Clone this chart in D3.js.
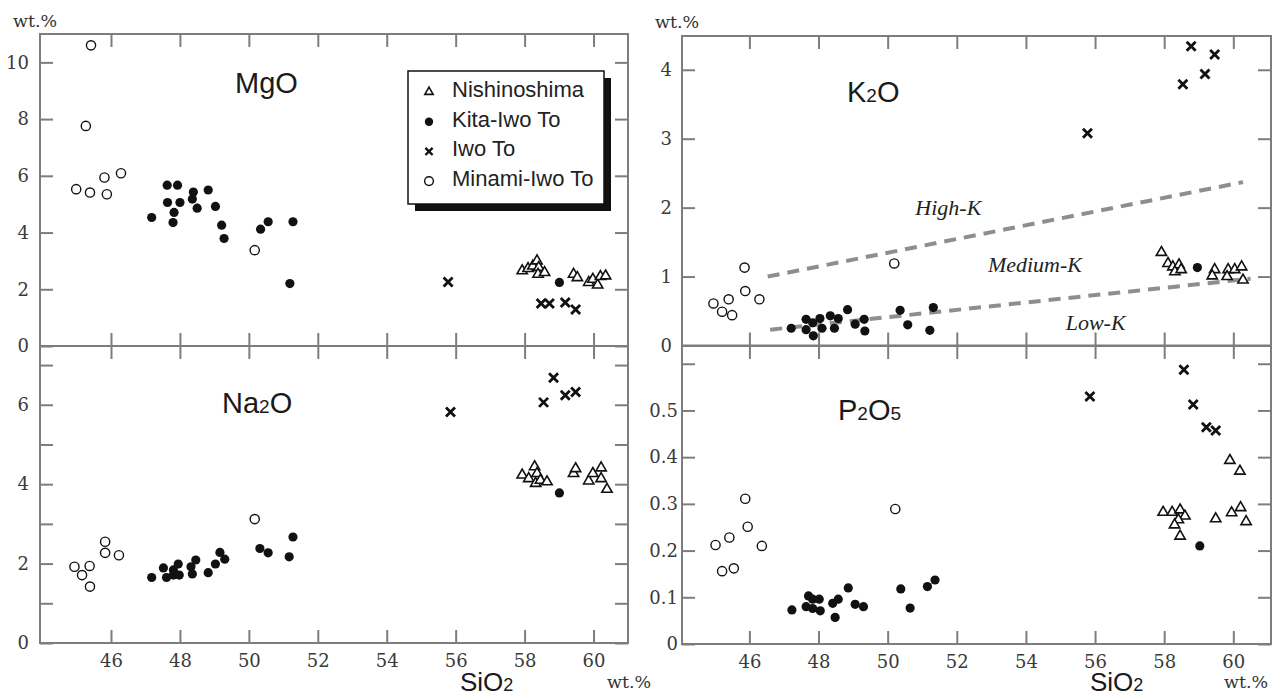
<!DOCTYPE html>
<html><head><meta charset="utf-8">
<script src="https://cdn.jsdelivr.net/npm/d3@7"></script>
<style>body{margin:0;background:#fff}svg{display:block}</style>
</head><body>
<svg id="chart" width="1278" height="698"></svg>
<script>
// ---------- DATA ----------
const islands = ["Nishinoshima", "Kita-Iwo To", "Iwo To", "Minami-Iwo To"];
const siTicks = [46, 48, 50, 52, 54, 56, 58, 60];
const mgoTicks = [0, 2, 4, 6, 8, 10];
const mgoLabels = [0, 2, 4, 6, 8, 10];
const na2oTicks = [0, 1, 2, 3, 4, 5, 6, 7];
const na2oLabels = [0, 2, 4, 6];
const k2oTicks = [0, 1, 2, 3, 4];
const k2oLabels = [0, 1, 2, 3, 4];
const p2o5Ticks = [0, 0.1, 0.2, 0.3, 0.4, 0.5, 0.6];
const p2o5Labels = [0, 0.1, 0.2, 0.3, 0.4, 0.5];

// each point: [SiO2 wt.%, oxide wt.%]
const nishinoshimaMgO = [[57.93,2.65],[58.10,2.73],[58.24,2.82],[58.36,3.00],[58.41,2.77],[58.39,2.53],[58.58,2.59],[59.42,2.53],[59.53,2.41],[59.86,2.24],[59.98,2.35],[60.12,2.15],[60.20,2.45],[60.35,2.47]];
const kitaMgO = [[47.18,4.53],[47.63,5.67],[47.93,5.67],[47.64,5.06],[48.00,5.06],[47.83,4.71],[47.80,4.35],[48.39,5.43],[48.36,5.18],[48.50,4.86],[48.82,5.50],[49.03,4.92],[49.21,4.26],[49.28,3.79],[50.34,4.12],[50.56,4.38],[51.28,4.38],[51.19,2.20],[59.01,2.24]];
const iwoMgO = [[55.78,2.26],[58.48,1.50],[58.72,1.50],[59.18,1.53],[59.48,1.29]];
const minamiMgO = [[44.99,5.53],[45.27,7.76],[45.39,5.41],[45.42,10.6],[45.81,5.94],[45.88,5.35],[46.29,6.09],[50.17,3.38]];

const nishinoshimaNa2O = [[57.93,4.23],[58.12,4.14],[58.29,4.44],[58.36,4.27],[58.32,4.02],[58.46,4.10],[58.65,4.06],[59.42,4.27],[59.48,4.39],[59.86,4.08],[59.98,4.27],[60.22,4.41],[60.22,4.14],[60.39,3.87]];
const kitaNa2O = [[47.18,1.65],[47.52,1.89],[47.61,1.65],[47.81,1.84],[47.81,1.71],[47.95,1.99],[47.98,1.71],[48.32,1.92],[48.36,1.74],[48.46,2.09],[48.82,1.77],[49.03,1.99],[49.16,2.28],[49.30,2.11],[50.32,2.38],[50.56,2.27],[51.17,2.17],[51.28,2.67],[59.01,3.78]];
const iwoNa2O = [[55.85,5.82],[58.84,6.68],[58.55,6.06],[59.18,6.24],[59.48,6.32]];
const minamiNa2O = [[44.94,1.92],[45.16,1.71],[45.38,1.94],[45.39,1.42],[45.83,2.55],[45.83,2.27],[46.23,2.21],[50.17,3.12]];

const nishinoshimaK2O = [[57.92,1.35],[58.11,1.19],[58.25,1.14],[58.43,1.17],[58.31,1.07],[58.49,1.10],[59.46,1.10],[59.39,1.01],[59.85,1.10],[59.82,1.00],[60.04,1.10],[60.24,1.14],[60.28,0.95]];
const kitaK2O = [[47.21,0.25],[47.64,0.38],[47.64,0.23],[47.85,0.14],[47.83,0.33],[48.04,0.39],[48.10,0.25],[48.34,0.43],[48.46,0.25],[48.57,0.39],[48.84,0.52],[49.06,0.31],[49.32,0.38],[49.34,0.21],[50.36,0.51],[50.58,0.30],[51.32,0.55],[51.22,0.22],[58.96,1.13]];
const iwoK2O = [[55.78,3.08],[58.78,4.34],[59.46,4.22],[59.18,3.94],[58.54,3.79]];
const minamiK2O = [[44.96,0.61],[45.21,0.49],[45.40,0.67],[45.50,0.44],[45.86,1.13],[45.88,0.79],[46.29,0.67],[50.19,1.19]];

const nishinoshimaP2O5 = [[57.97,0.282],[58.23,0.282],[58.46,0.287],[58.60,0.274],[58.41,0.266],[58.30,0.255],[58.46,0.231],[59.49,0.268],[59.90,0.393],[60.19,0.370],[59.95,0.281],[60.21,0.292],[60.37,0.262]];
const kitaP2O5 = [[47.23,0.073],[47.64,0.080],[47.71,0.103],[47.83,0.076],[47.83,0.096],[48.02,0.096],[48.05,0.071],[48.41,0.087],[48.57,0.096],[48.48,0.057],[48.86,0.120],[49.06,0.085],[49.30,0.080],[50.38,0.118],[50.65,0.077],[51.15,0.123],[51.37,0.137],[59.03,0.210]];
const iwoP2O5 = [[55.85,0.530],[58.57,0.587],[58.84,0.513],[59.22,0.464],[59.49,0.457]];
const minamiP2O5 = [[45.02,0.212],[45.21,0.156],[45.42,0.228],[45.55,0.162],[45.88,0.311],[45.95,0.251],[46.36,0.210],[50.22,0.289]];

// K2O classification boundaries [SiO2, K2O]
const highKLine = [[46.53, 1.00], [60.28, 2.37]];
const lowKLine = [[46.60, 0.23], [60.50, 0.97]];
const kFieldLabels = ["High-K", "Medium-K", "Low-K"];
const kFieldPos = [[50.8, 1.89], [52.9, 1.07], [55.15, 0.22]];

// ---------- DRAW ----------
const svg = d3.select("#chart");
const GRAY = "#7d7d7d";
const SERIF = "'DejaVu Serif', 'Liberation Serif', serif";
const SANS = "'Liberation Sans', Arial, Helvetica, sans-serif";

function fmt(d) { return d === 0 ? "0" : (Number.isInteger(d) ? String(d) : d3.format(".1f")(d)); }

function drawPanel(cfg) {
  const x = d3.scaleLinear().domain(cfg.xDomain).range(cfg.xRange);
  const y = d3.scaleLinear().domain(cfg.yDomain).range(cfg.yRange);
  const g = svg.append("g");
  const [x0, x1] = cfg.xRange, [yb, yt] = cfg.yRange;

  g.append("rect").attr("x", x0).attr("y", yt).attr("width", x1 - x0).attr("height", yb - yt)
    .attr("fill", "none").attr("stroke", GRAY).attr("stroke-width", 2);

  const style = sel => {
    sel.select(".domain").remove();
    sel.selectAll(".tick line").attr("stroke", GRAY).attr("stroke-width", 2);
    sel.attr("font-family", SERIF).attr("font-size", 18).attr("color", "#3a3a3a");
  };
  g.append("g").attr("transform", `translate(${x0},0)`)
    .call(d3.axisLeft(y).tickValues(cfg.yTicks).tickSize(-13).tickPadding(cfg.yPad)
      .tickFormat(d => cfg.yLabels.includes(d) ? fmt(d) : "")).call(style);
  g.append("g").attr("transform", `translate(${x1},0)`)
    .call(d3.axisRight(y).tickValues(cfg.yTicks).tickSize(-13).tickFormat("")).call(style);
  g.append("g").attr("transform", `translate(0,${yt})`)
    .call(d3.axisTop(x).tickValues(siTicks).tickSize(-13).tickFormat("")).call(style);
  g.append("g").attr("transform", `translate(0,${yb})`)
    .call(d3.axisBottom(x).tickValues(siTicks).tickSize(-13).tickPadding(11)
      .tickFormat(cfg.xLabels ? fmt : "")).call(style);

  if (cfg.lines) {
    const line = d3.line().x(d => x(d[0])).y(d => y(d[1]));
    cfg.lines.forEach(l => g.append("path").attr("d", line(l)).attr("fill", "none")
      .attr("stroke", "#8e8e8e").attr("stroke-width", 4).attr("stroke-dasharray", "12,8"));
    kFieldLabels.forEach((t, i) => g.append("text").attr("x", x(kFieldPos[i][0])).attr("y", y(kFieldPos[i][1]))
      .attr("font-family", "'Liberation Serif', 'Times New Roman', serif").attr("font-style", "italic")
      .attr("font-size", 22).attr("fill", "#222").text(t));
  }

  const sets = cfg.series;
  g.selectAll(".tri").data(sets[0]).join("path")
    .attr("transform", d => `translate(${x(d[0])},${y(d[1])})`)
    .attr("d", d3.symbol(d3.symbolTriangle, 46))
    .attr("fill", "#fff").attr("stroke", "#111").attr("stroke-width", 1.6);
  g.selectAll(".fc").data(sets[1]).join("circle")
    .attr("cx", d => x(d[0])).attr("cy", d => y(d[1])).attr("r", 4.6).attr("fill", "#111");
  g.selectAll(".xx").data(sets[2]).join("path")
    .attr("d", d => { const cx = x(d[0]), cy = y(d[1]), s = 4.5;
      return `M${cx-s},${cy-s}L${cx+s},${cy+s}M${cx-s},${cy+s}L${cx+s},${cy-s}`; })
    .attr("stroke", "#111").attr("stroke-width", 2.8).attr("fill", "none");
  g.selectAll(".oc").data(sets[3]).join("circle")
    .attr("cx", d => x(d[0])).attr("cy", d => y(d[1])).attr("r", 4.6)
    .attr("fill", "#fff").attr("stroke", "#111").attr("stroke-width", 1.4);

  const t = g.append("text").attr("x", cfg.titlePos[0]).attr("y", cfg.titlePos[1])
    .attr("font-family", SANS).attr("font-size", 29).attr("fill", "#1a1a1a");
  cfg.title.forEach(p => t.append("tspan").attr("font-size", p.sub ? 19 : 29).text(p.t));
  return { x, y };
}

const leftX = { xDomain: [43.94, 61.0], xRange: [40, 628] };
const rightX = { xDomain: [44.05, 61.09], xRange: [682, 1271] };

drawPanel({ ...leftX, yDomain: [0, 11], yRange: [346, 34], yTicks: mgoTicks, yLabels: mgoLabels, yPad: 11,
  xLabels: false, series: [nishinoshimaMgO, kitaMgO, iwoMgO, minamiMgO],
  title: [{ t: "MgO" }], titlePos: [235, 93] });
drawPanel({ ...leftX, yDomain: [0, 7.48], yRange: [643, 346], yTicks: na2oTicks, yLabels: na2oLabels, yPad: 11,
  xLabels: true, series: [nishinoshimaNa2O, kitaNa2O, iwoNa2O, minamiNa2O],
  title: [{ t: "Na" }, { t: "2", sub: true }, { t: "O" }], titlePos: [222, 413] });
drawPanel({ ...rightX, yDomain: [0, 4.49], yRange: [345.5, 36], yTicks: k2oTicks, yLabels: k2oLabels, yPad: 10,
  xLabels: false, series: [nishinoshimaK2O, kitaK2O, iwoK2O, minamiK2O], lines: [highKLine, lowKLine],
  title: [{ t: "K" }, { t: "2", sub: true }, { t: "O" }], titlePos: [847, 102] });
drawPanel({ ...rightX, yDomain: [0, 0.638], yRange: [644, 346], yTicks: p2o5Ticks, yLabels: p2o5Labels, yPad: 4,
  xLabels: true, series: [nishinoshimaP2O5, kitaP2O5, iwoP2O5, minamiP2O5],
  title: [{ t: "P" }, { t: "2", sub: true }, { t: "O" }, { t: "5", sub: true }], titlePos: [838, 420] });

// unit labels
const units = [[13, 27], [655, 28], [607, 688], [1224, 688]];
units.forEach(p => svg.append("text").attr("x", p[0]).attr("y", p[1])
  .attr("font-family", SERIF).attr("font-size", 17.5).attr("fill", "#333").text("wt.%"));

// SiO2 axis titles
[[460, 691], [1090, 691]].forEach(p => {
  const t = svg.append("text").attr("x", p[0]).attr("y", p[1]).attr("font-family", SANS)
    .attr("font-size", 26).attr("fill", "#1a1a1a");
  t.append("tspan").text("SiO");
  t.append("tspan").attr("font-size", 18).text("2");
});

// legend
const lg = svg.append("g");
lg.append("rect").attr("x", 415).attr("y", 78).attr("width", 196).attr("height", 133).attr("fill", "#111");
lg.append("rect").attr("x", 408).attr("y", 71).attr("width", 196).attr("height", 133)
  .attr("fill", "#fff").attr("stroke", "#111").attr("stroke-width", 1.5);
islands.forEach((name, i) => {
  const cy = 92 + i * 29.7, cx = 429;
  if (i === 0) lg.append("path").attr("transform", `translate(${cx},${cy})`)
    .attr("d", d3.symbol(d3.symbolTriangle, 30)).attr("fill", "#fff").attr("stroke", "#111").attr("stroke-width", 1.6);
  if (i === 1) lg.append("circle").attr("cx", cx).attr("cy", cy).attr("r", 4.2).attr("fill", "#111");
  if (i === 2) { const s = 3.6; lg.append("path")
    .attr("d", `M${cx-s},${cy-s}L${cx+s},${cy+s}M${cx-s},${cy+s}L${cx+s},${cy-s}`)
    .attr("stroke", "#111").attr("stroke-width", 2.4); }
  if (i === 3) lg.append("circle").attr("cx", cx).attr("cy", cy).attr("r", 4.4)
    .attr("fill", "#fff").attr("stroke", "#111").attr("stroke-width", 1.4);
  lg.append("text").attr("x", 452).attr("y", 97 + i * 29.7).attr("font-family", SANS)
    .attr("font-size", 22).attr("fill", "#222").text(name);
});
</script>
</body></html>
